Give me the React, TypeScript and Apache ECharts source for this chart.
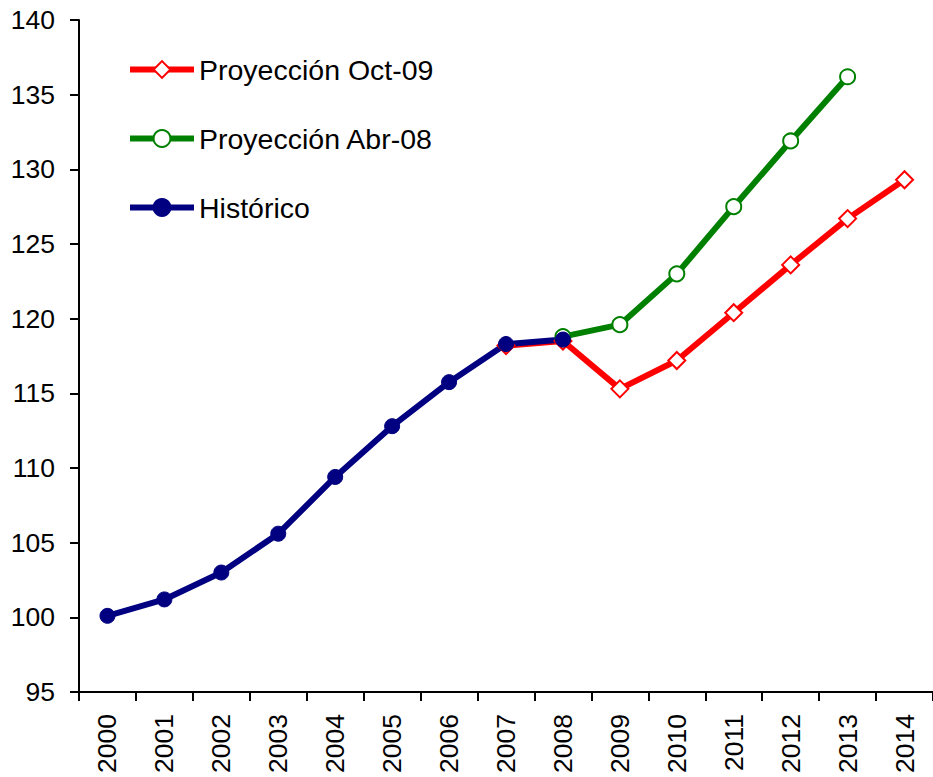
import React, { useEffect, useRef } from "react";
import * as echarts from "echarts";

const years = ["2000","2001","2002","2003","2004","2005","2006","2007","2008","2009","2010","2011","2012","2013","2014"];
const historico = [100.1, 101.2, 103.0, 105.6, 109.4, 112.8, 115.75, 118.3, 118.6, null, null, null, null, null, null];
const proyOct09 = [null, null, null, null, null, null, null, 118.2, 118.5, 115.3, 117.2, 120.4, 123.6, 126.7, 129.3];
const proyAbr08 = [null, null, null, null, null, null, null, null, 118.8, 119.6, 123.0, 127.5, 131.9, 136.2, null];

export default function App() {
  const ref = useRef<HTMLDivElement>(null);
  useEffect(() => {
    const chart = echarts.init(ref.current!, null, { renderer: "svg" });
    const font = "Liberation Sans, Arial, sans-serif";
    chart.setOption({
      animation: false,
      backgroundColor: "#ffffff",
      grid: { left: 79, top: 20, width: 859, bottom: 85 },
      legend: {
        left: 122,
        top: 50,
        orient: "vertical",
        itemWidth: 64,
        itemHeight: 21,
        itemGap: 40,
        lineStyle: { width: 6 },
        textStyle: { fontFamily: font, fontSize: 28.5, color: "#000" },
        data: ["Proyección Oct-09", "Proyección Abr-08", "Histórico"],
      },
      xAxis: {
        type: "category",
        data: years,
        boundaryGap: true,
        axisLine: { lineStyle: { color: "#000", width: 2 } },
        axisTick: { show: true, length: 9, lineStyle: { color: "#000", width: 2 } },
        axisLabel: { rotate: 90, fontFamily: font, fontSize: 26.5, color: "#000", margin: 22, interval: 0 },
      },
      yAxis: {
        type: "value",
        min: 95,
        max: 140,
        interval: 5,
        splitLine: { show: false },
        axisLine: { show: true, lineStyle: { color: "#000", width: 2 } },
        axisTick: { show: true, length: 9, lineStyle: { color: "#000", width: 2 } },
        axisLabel: { fontFamily: font, fontSize: 26.5, color: "#000", margin: 24 },
      },
      series: [
        {
          name: "Proyección Oct-09",
          type: "line",
          data: proyOct09,
          color: "#FF0000",
          symbol: "diamond",
          symbolSize: 17,
          lineStyle: { width: 6, color: "#FF0000" },
          itemStyle: { color: "#ffffff", borderColor: "#FF0000", borderWidth: 2 },
        },
        {
          name: "Proyección Abr-08",
          type: "line",
          data: proyAbr08,
          color: "#008000",
          symbol: "circle",
          symbolSize: 15,
          lineStyle: { width: 6, color: "#008000" },
          itemStyle: { color: "#ffffff", borderColor: "#008000", borderWidth: 2 },
        },
        {
          name: "Histórico",
          type: "line",
          data: historico,
          color: "#000080",
          symbol: "circle",
          symbolSize: 15,
          lineStyle: { width: 6, color: "#000080" },
          itemStyle: { color: "#000080", borderColor: "#000080", borderWidth: 1 },
        },
      ],
    });
    return () => chart.dispose();
  }, []);
  return <div ref={ref} style={{ position: "absolute", left: 0, top: 0, width: 933, height: 777 }} />;
}
